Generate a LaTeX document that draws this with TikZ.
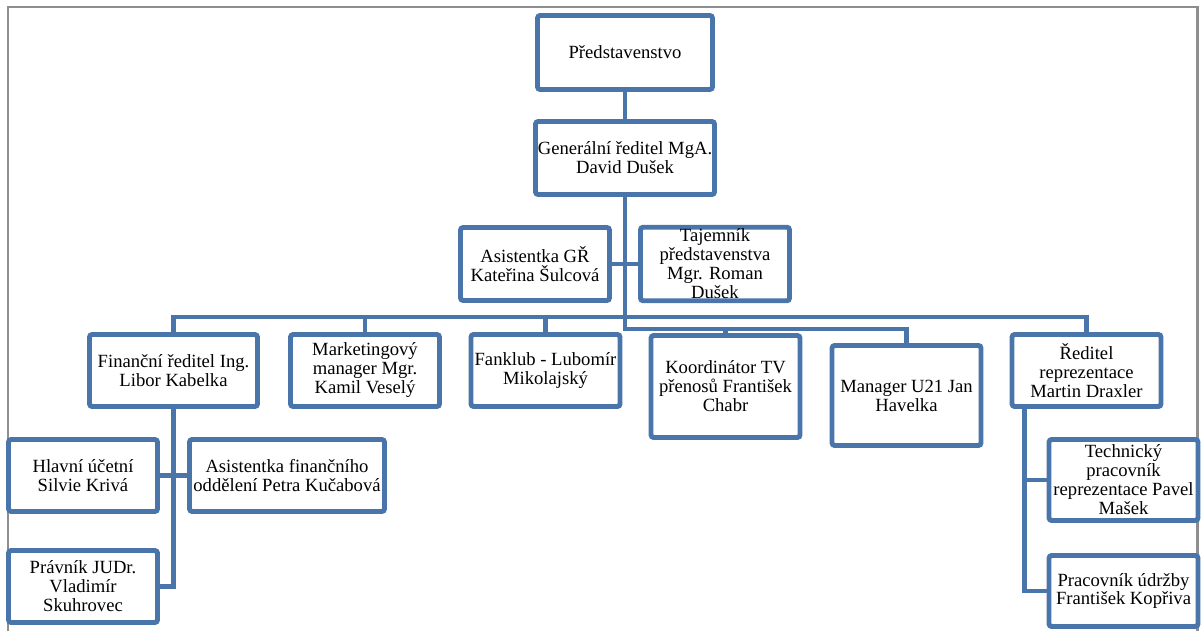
\documentclass[tikz,border=0pt]{standalone}
\usepackage{fontspec}
\setmainfont{Liberation Serif}
\definecolor{orgblue}{HTML}{4A75AB}
\definecolor{framegray}{HTML}{8E8E8E}

\begin{document}
\begin{tikzpicture}[x=0.02cm, y=-0.02cm,
    every node/.style={font=\fontsize{10.6}{10.8}\selectfont},
    box/.style={draw=orgblue, line width=2.8pt, rounded corners=1.5pt, fill=white,
      align=center, inner sep=1pt, minimum width=2.98cm, minimum height=1.44cm},
    conn/.style={draw=orgblue, line width=2.8pt}]
  \useasboundingbox (0,0) rectangle (1202,631);
  % Frame
  \draw[framegray, line width=1.2pt] (8,631) |- (1197.5,7) -- (1197.5,631);
  % Top
  \node[box, minimum width=3.5cm, minimum height=1.48cm] (pred) at (625,52.5) {Představenstvo};
  \node[box, minimum width=3.58cm, minimum height=1.46cm] (gen) at (625,158) {Generální ředitel MgA.\\David Dušek};
  \node[box, minimum height=1.46cm] (asgr) at (535,264) {Asistentka GŘ\\Kateřina Šulcová};
  \node[box, minimum height=1.46cm] (taj) at (715,264) {Tajemník\\představenstva\\Mgr. Roman\\Dušek};
  % Second row
  \node[box, minimum width=3.36cm] (fin) at (173.5,370.5) {Finanční ředitel Ing.\\Libor Kabelka};
  \node[box] (mkt) at (365,370.5) {Marketingový\\manager Mgr.\\Kamil Veselý};
  \node[box] (fan) at (545.5,370.5) {Fanklub - Lubomír\\Mikolajský};
  \node[box, minimum height=2.04cm] (koord) at (725.5,386.5) {Koordinátor TV\\přenosů František\\Chabr};
  \node[box, minimum height=2cm] (u21) at (906.5,395.5) {Manager U21 Jan\\Havelka};
  \node[box] (repr) at (1086.5,370.5) {Ředitel\\reprezentace\\Martin Draxler};
  % Finance
  \node[box] (hlav) at (83,475.5) {Hlavní účetní\\Silvie Krivá};
  \node[box, minimum width=3.9cm] (asfin) at (287,475.5) {Asistentka finančního\\oddělení Petra Kučabová};
  \node[box] (prav) at (83,586.5) {Právník JUDr.\\Vladimír\\Skuhrovec};
  % Representation
  \node[box, minimum height=1.62cm] (tech) at (1123.5,480) {Technický\\pracovník\\reprezentace Pavel\\Mašek};
  \node[box, minimum height=1.42cm] (udrz) at (1123.5,591) {Pracovník údržby\\František Kopřiva};
  % Connectors
  \coordinate (busA) at (0,317);
  \coordinate (busB) at (0,329);
  \coordinate (rtrunk) at ([xshift=0.29cm]repr.south west);
  \draw[conn] (pred) -- (gen);
  \draw[conn] (asgr) -- (taj);
  \foreach \n in {fin,mkt,fan,repr}
    \draw[conn] (gen.south) -- (gen.south |- busA) -| (\n.north);
  \foreach \n in {koord,u21}
    \draw[conn] (gen.south) -- (gen.south |- busB) -| (\n.north);
  \foreach \n in {hlav,prav}
    \draw[conn] (fin.south) |- (\n.east);
  \draw[conn] (fin.south) |- (asfin.west);
  \foreach \n in {tech,udrz}
    \draw[conn] (rtrunk) |- (\n.west);
\end{tikzpicture}
\end{document}
